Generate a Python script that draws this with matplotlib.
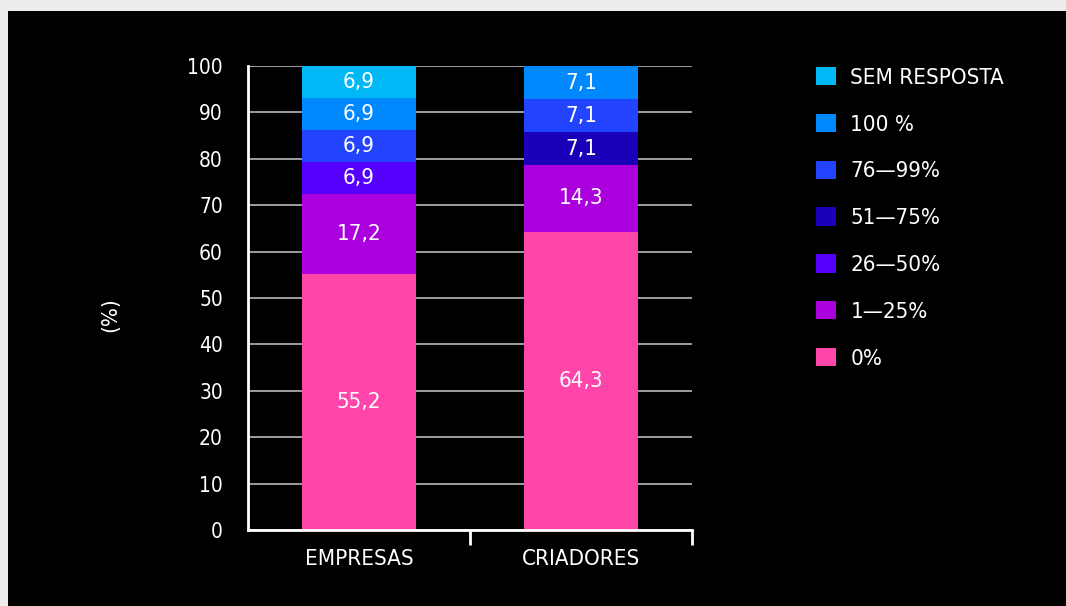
import numpy as np
import matplotlib
matplotlib.use("Agg")
import matplotlib.pyplot as plt
from matplotlib.patches import Rectangle, Patch

plt.rcParams['font.family'] = ['DejaVu Sans']
plt.rcParams['font.stretch'] = 'condensed'

categories = ['EMPRESAS', 'CRIADORES']
series_names = ['0%', '1—25%', '26—50%', '51—75%', '76—99%', '100 %', 'SEM RESPOSTA']
series_values = {
    '0%': [55.2, 64.3],
    '1—25%': [17.2, 14.3],
    '26—50%': [6.9, 0.0],
    '51—75%': [0.0, 7.1],
    '76—99%': [6.9, 7.1],
    '100 %': [6.9, 7.1],
    'SEM RESPOSTA': [6.9, 0.0],
}
colors = ['#FF44AA', '#AA00DD', '#5500FF', '#1A00B8', '#2244FF', '#0088FF', '#00B8F5']
yticks = [0, 10, 20, 30, 40, 50, 60, 70, 80, 90, 100]

fig = plt.figure(figsize=(10.66, 6.06), dpi=100)
fig.patch.set_facecolor('#EEECED')
fig.patches.append(Rectangle((8 / 1066, 0), 1, 1 - 11 / 606, transform=fig.transFigure,
                             facecolor='black', edgecolor='none', zorder=-5))

ax = fig.add_axes([248 / 1066, 76 / 606, 444 / 1066, 464 / 606])
ax.set_zorder(2)
ax.patch.set_alpha(0)

x = np.arange(len(categories))
bottom = np.zeros(len(categories))
for name, col in zip(series_names, colors):
    vals = np.array(series_values[name])
    ax.bar(x, vals, 0.514, bottom=bottom, color=col, zorder=3)
    for xi, v, b in zip(x, vals, bottom):
        if v > 0:
            ax.text(xi, b + v / 2, f'{v:.1f}'.replace('.', ','), ha='center', va='center',
                    color='white', fontsize=16, zorder=4)
    bottom += vals

ax.set_xlim(-0.5, 1.5)
ax.set_ylim(0, 100)
ax.set_yticks(yticks)
ax.yaxis.grid(True, color='#aaaaaa', linewidth=1.3, zorder=1)
ax.tick_params(axis='y', length=0, pad=18, labelsize=15, labelcolor='white')
ax.set_xticks(x)
ax.set_xticklabels(categories)
ax.tick_params(axis='x', which='major', length=0, pad=14, labelsize=16, labelcolor='white')
ax.set_xticks([0.5, 1.5], minor=True)
ax.tick_params(axis='x', which='minor', length=11, width=2, color='white')
for s in ['top', 'right']:
    ax.spines[s].set_visible(False)
for s in ['left', 'bottom']:
    ax.spines[s].set_color('white')
    ax.spines[s].set_linewidth(2)
    ax.spines[s].set_zorder(5)

fig.text(110 / 1066, 1 - 315 / 606, '(%)', rotation=90, ha='center', va='center',
         color='white', fontsize=16)

handles = [Patch(facecolor=c, edgecolor='none') for c in colors][::-1]
leg = fig.legend(handles, series_names[::-1], loc='upper left',
                 bbox_to_anchor=(796 / 1066, 1 - 47 / 606), frameon=False,
                 fontsize=16, labelcolor='white', handlelength=0.9, handleheight=0.9,
                 handletextpad=0.65, labelspacing=1.165)

fig.savefig('out.png', dpi=100, facecolor=fig.get_facecolor())
